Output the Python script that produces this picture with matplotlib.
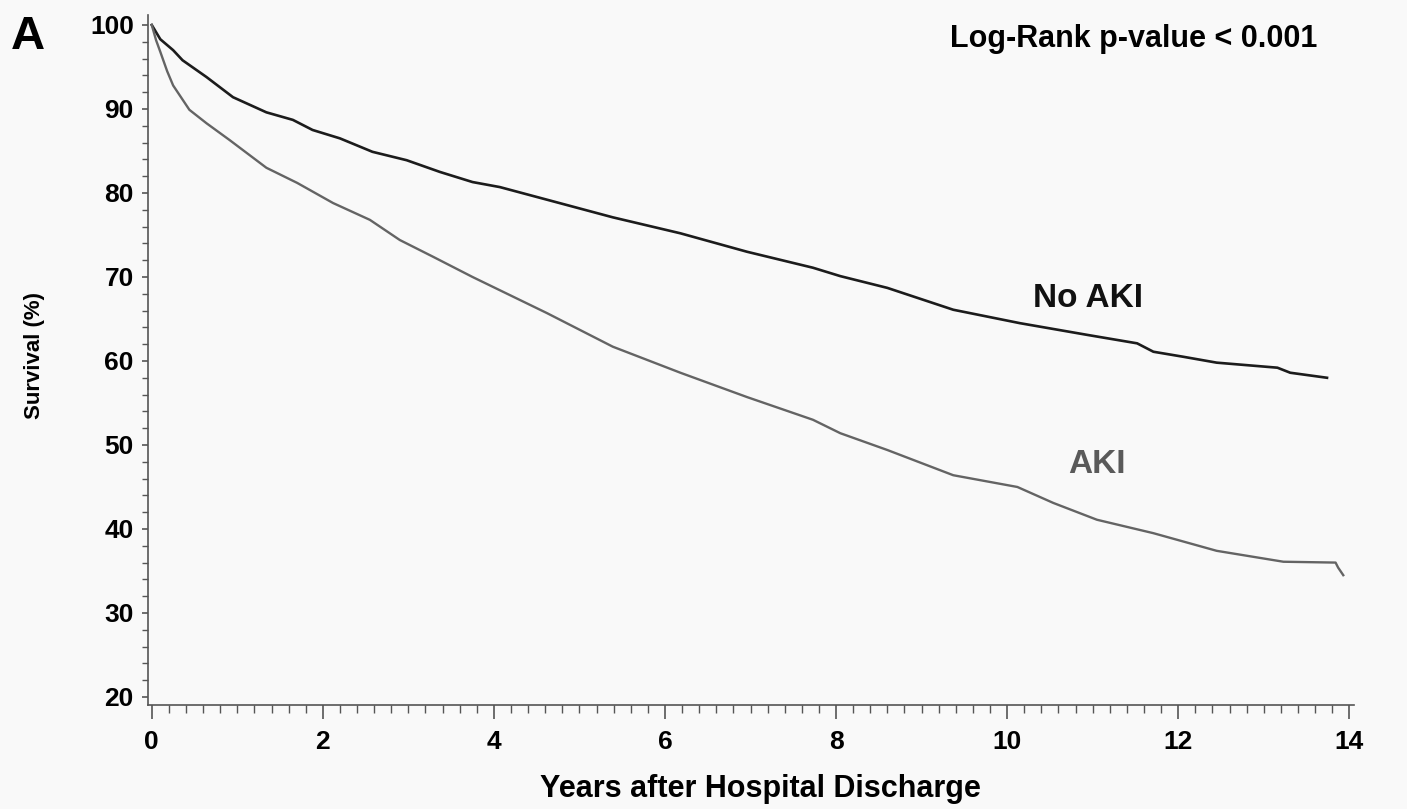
import matplotlib.pyplot as plt
from matplotlib.ticker import MultipleLocator

plt.rcParams['font.family'] = ['Liberation Sans', 'DejaVu Sans']
plt.rcParams['font.weight'] = 'bold'

# Survival curves (years, % surviving)
no_aki_years = [0, 0.1, 0.25, 0.36, 0.64, 0.95, 1.34, 1.65, 1.88, 2.2, 2.58, 2.98, 3.37, 3.75,
                4.07, 4.62, 5.39, 6.18, 6.96, 7.73, 8.05, 8.6, 9.37, 10.15, 10.94, 11.52,
                11.71, 12.06, 12.45, 13.16, 13.31, 13.74]
no_aki_surv = [100, 98.3, 97.0, 95.8, 93.8, 91.4, 89.6, 88.7, 87.5, 86.5, 84.9, 83.9, 82.5, 81.3,
               80.7, 79.2, 77.1, 75.2, 73.0, 71.1, 70.1, 68.7, 66.1, 64.5, 63.1, 62.1,
               61.1, 60.5, 59.8, 59.2, 58.6, 58.0]

aki_years = [0, 0.05, 0.1, 0.18, 0.25, 0.44, 0.64, 0.91, 1.34, 1.7, 2.12, 2.55, 2.9, 3.29, 3.75,
             4.62, 5.39, 6.18, 6.96, 7.73, 8.05, 8.6, 9.37, 10.12, 10.54, 11.05, 11.71, 12.45,
             13.23, 13.84, 13.87, 13.93]
aki_surv = [100, 98.2, 96.8, 94.5, 92.8, 89.9, 88.3, 86.3, 83.0, 81.2, 78.8, 76.8, 74.4, 72.4, 70.0,
            65.7, 61.7, 58.6, 55.7, 53.0, 51.4, 49.4, 46.4, 45.0, 43.1, 41.1, 39.5, 37.4,
            36.1, 36.0, 35.4, 34.5]

x_ticks = [0, 2, 4, 6, 8, 10, 12, 14]
y_ticks = [20, 30, 40, 50, 60, 70, 80, 90, 100]

bg = '#f9f9f9'
fig = plt.figure(figsize=(14.07, 8.09), dpi=100, facecolor=bg)
ax = fig.add_axes([0.105, 0.1286, 0.857, 0.853], facecolor=bg)

ax.plot(no_aki_years, no_aki_surv, color='#1c1c1c', lw=1.9)
ax.plot(aki_years, aki_surv, color='#646464', lw=1.7)

ax.set_xlim(-0.047, 14.05)
ax.set_ylim(19.05, 101.2)
ax.set_xticks(x_ticks)
ax.set_yticks(y_ticks)
ax.xaxis.set_minor_locator(MultipleLocator(0.2))
ax.yaxis.set_minor_locator(MultipleLocator(2))

for s in ['top', 'right']:
    ax.spines[s].set_visible(False)
for s in ['left', 'bottom']:
    ax.spines[s].set_color('#555555')
    ax.spines[s].set_linewidth(1.2)

ax.tick_params(axis='both', which='major', colors='#555555', labelcolor='black',
               labelsize=19, width=1.2)
ax.tick_params(axis='x', which='major', length=10, pad=8)
ax.tick_params(axis='y', which='major', length=4, pad=6)
ax.tick_params(axis='x', which='minor', colors='#555555', width=1.0, length=6)
ax.tick_params(axis='y', which='minor', colors='#555555', width=1.0, length=4)

ax.set_xlabel('Years after Hospital Discharge', fontsize=22, fontweight='bold')
ax.set_ylabel('Survival (%)', fontsize=16, fontweight='bold')
ax.xaxis.set_label_coords(0.508, -0.100)
ax.yaxis.set_label_coords(-0.085, 0.507)

ax.text(9.33, 97.4, 'Log-Rank p-value < 0.001', fontsize=22, fontweight='bold', va='baseline')
ax.text(10.30, 66.4, 'No AKI', fontsize=24, fontweight='bold', color='#111111', va='baseline')
ax.text(10.71, 46.7, 'AKI', fontsize=24, fontweight='bold', color='#5a5a5a', va='baseline')

fig.text(0.008, 0.982, 'A', fontsize=34, fontweight='bold', va='top')

fig.savefig('out.png', dpi=100, facecolor=bg)
